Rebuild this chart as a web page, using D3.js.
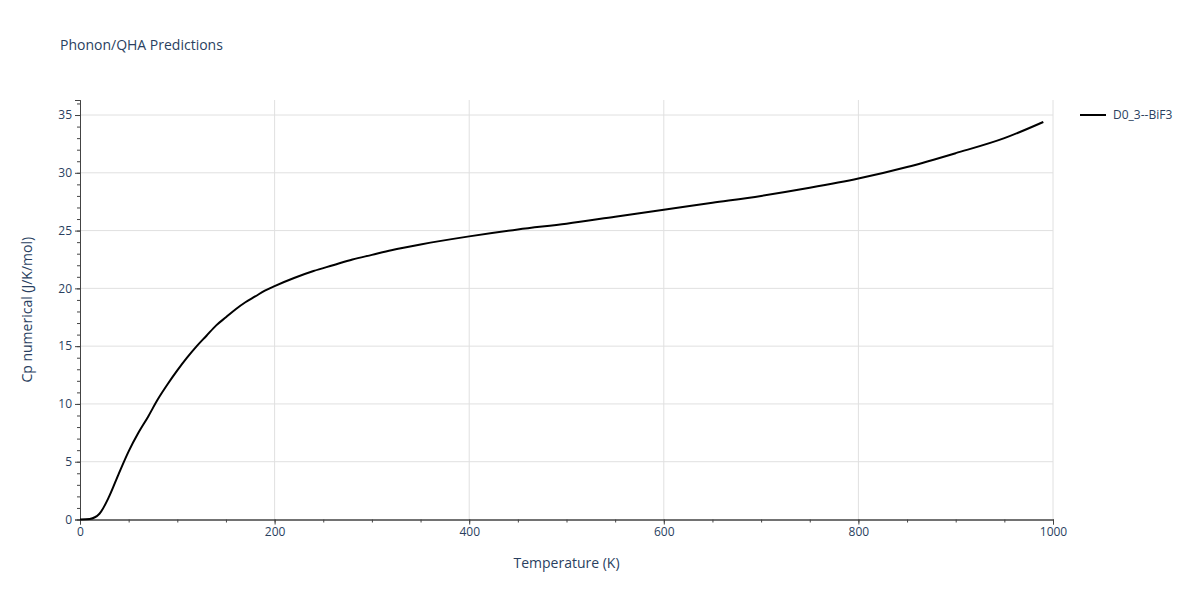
<!DOCTYPE html>
<html><head><meta charset="utf-8">
<script src="https://cdn.jsdelivr.net/npm/d3@7"></script>
<style>body{margin:0;background:#fff;font-family:"Open Sans",sans-serif;}</style>
</head><body>
<script>
var temps = [0,10,20,30,40,50,60,70,80,90,100,110,120,130,140,150,160,170,180,190,200,220,240,260,280,300,320,350,400,450,500,550,600,650,700,750,800,850,900,950,990];
var cp = [0,0.05,0.5,2.0,4.0,5.9,7.5,8.9,10.4,11.7,12.9,14.0,15.0,15.9,16.8,17.5,18.2,18.8,19.3,19.8,20.2,20.9,21.5,22.0,22.5,22.9,23.3,23.8,24.5,25.1,25.6,26.2,26.8,27.4,28.0,28.7,29.5,30.5,31.7,33.0,34.4];
var xTicks = [0,200,400,600,800,1000];
var yTicks = [0,5,10,15,20,25,30,35];
var seriesName = 'D0_3--BiF3';

var W = 1200, H = 600,
    margin = {left:80, right:147, top:100, bottom:81};
var textColor = '#2a3f5f';
var svg = d3.select('body').append('svg').attr('width', W).attr('height', H);

var x = d3.scaleLinear().domain([0,1000]).range([margin.left, W - margin.right]);
var y = d3.scaleLinear().domain([0,36.3]).range([H - margin.bottom + 0.5, margin.top]);

// grid
svg.append('g').selectAll('line').data(xTicks.slice(1)).enter().append('line')
  .attr('x1', x).attr('x2', x).attr('y1', y(36.3)).attr('y2', y(0))
  .attr('stroke', '#e0e0e0');
svg.append('g').selectAll('line').data(yTicks.slice(1)).enter().append('line')
  .attr('x1', x(0)).attr('x2', x(1000)).attr('y1', y).attr('y2', y)
  .attr('stroke', '#e0e0e0');

// axes
svg.append('g').attr('transform', 'translate(0,' + y(0) + ')')
  .call(d3.axisBottom(x).tickValues(xTicks).tickSize(5).tickFormat(d3.format('d')));
svg.append('g').attr('transform', 'translate(0,' + y(0) + ')')
  .call(d3.axisBottom(x).tickValues(d3.range(0,1001,50)).tickSize(3).tickFormat(''));
svg.append('g').attr('transform', 'translate(' + x(0) + ',0)')
  .call(d3.axisLeft(y).tickValues(yTicks).tickSize(5));
svg.append('g').attr('transform', 'translate(' + x(0) + ',0)')
  .call(d3.axisLeft(y).tickValues(d3.range(0,37,1)).tickSize(3).tickFormat(''));
svg.selectAll('.domain').attr('stroke', '#444');
svg.selectAll('.tick line').attr('stroke', '#444');
svg.selectAll('.tick text').attr('fill', textColor).style('font-size', '12px').style('font-family', '"Open Sans",sans-serif');

// line
svg.append('path').datum(temps.map(function(t,i){return [t, cp[i]];}))
  .attr('fill', 'none').attr('stroke', '#000').attr('stroke-width', 2)
  .attr('d', d3.line().curve(d3.curveMonotoneX).x(function(d){return x(d[0]);}).y(function(d){return y(d[1]);}));

// texts
svg.append('text').attr('x', 60).attr('y', 50).text('Phonon/QHA Predictions')
  .attr('fill', textColor).style('font-size', '14px');
svg.append('text').attr('x', (x(0)+x(1000))/2).attr('y', 568).attr('text-anchor', 'middle')
  .text('Temperature (K)').attr('fill', textColor).style('font-size', '14px');
svg.append('text').attr('transform', 'translate(32,' + (y(0)+y(36.3))/2 + ') rotate(-90)')
  .attr('text-anchor', 'middle').text('Cp numerical (J/K/mol)').attr('fill', textColor).style('font-size', '14px');

// legend
svg.append('line').attr('x1', 1080).attr('x2', 1106).attr('y1', 115).attr('y2', 115)
  .attr('stroke', '#000').attr('stroke-width', 2);
svg.append('text').attr('x', 1113).attr('y', 119).text(seriesName)
  .attr('fill', textColor).style('font-size', '12px');
</script>
</body></html>
